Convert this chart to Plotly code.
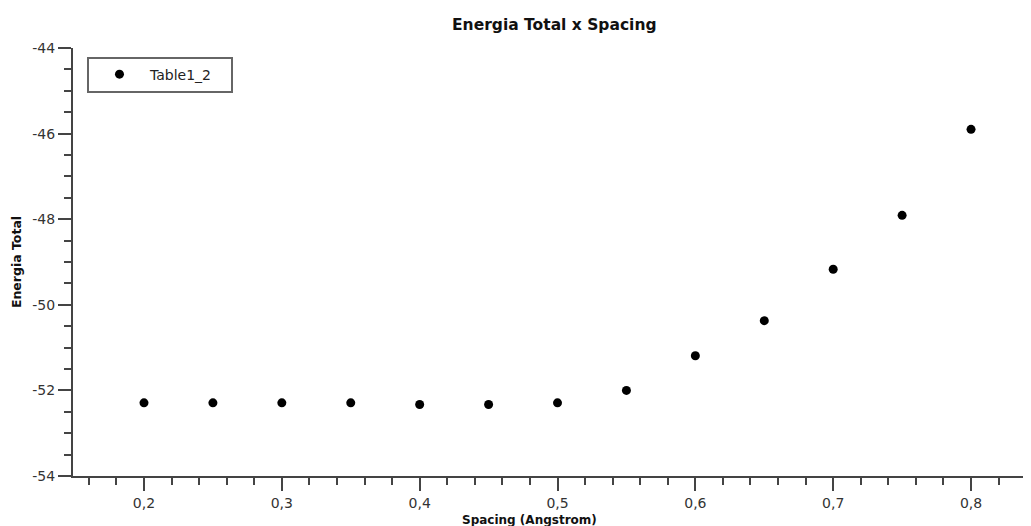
import plotly.graph_objects as go

spacing = [0.2, 0.25, 0.3, 0.35, 0.4, 0.45, 0.5, 0.55, 0.6, 0.65, 0.7, 0.75, 0.8]
energia = [-52.29, -52.29, -52.29, -52.29, -52.33, -52.33, -52.29, -52.0, -51.19, -50.37, -49.17, -47.91, -45.9]
x_ticks = [0.2, 0.3, 0.4, 0.5, 0.6, 0.7, 0.8]
y_ticks = [-54, -52, -50, -48, -46, -44]
series_name = "Table1_2"

font_fam = "DejaVu Sans"

fig = go.Figure()
fig.add_trace(go.Scatter(
    x=spacing, y=energia, mode="markers", name=series_name + "\u00a0\u00a0\u00a0",
    marker=dict(color="black", size=9, symbol="circle"),
))

fig.update_layout(
    width=1023, height=518,
    paper_bgcolor="white", plot_bgcolor="white",
    margin=dict(l=65, r=0, t=40, b=50),
    separators=",.",
    title=dict(text="<b>Energia Total x Spacing</b>", x=0.534, xanchor="center",
               y=0.978, yanchor="top",
               font=dict(family=font_fam, size=15.5, color="#111")),
    font=dict(family=font_fam, size=14, color="#333"),
    showlegend=True,
    legend=dict(x=0.0146, y=0.98, xanchor="left", yanchor="top",
                bordercolor="#666", borderwidth=2, bgcolor="white",
                font=dict(family=font_fam, size=14, color="#222"),
                itemwidth=51),
    xaxis=dict(
        range=[0.1485, 0.8435], tickvals=x_ticks,
        ticktext=[f"{v:.1f}".replace(".", ",") for v in x_ticks],
        showgrid=False, zeroline=False, automargin=False,
        showline=True, linecolor="#444", linewidth=2,
        ticks="outside", ticklen=13, tickwidth=1.5, tickcolor="#444",
        minor=dict(dtick=0.02, tick0=0.2, ticks="outside", ticklen=7, tickwidth=1.5, tickcolor="#444"),
    ),
    yaxis=dict(
        range=[-54, -44], tickvals=y_ticks,
        ticktext=[str(v) for v in y_ticks],
        showgrid=False, zeroline=False, automargin=False,
        showline=True, linecolor="#444", linewidth=2,
        ticks="outside", ticklen=13, tickwidth=1.5, tickcolor="#444",
        minor=dict(dtick=0.5, tick0=-54, ticks="outside", ticklen=7, tickwidth=1.5, tickcolor="#444"),
        title=dict(text="<b>Energia Total</b>", standoff=8,
                   font=dict(family=font_fam, size=12.5, color="#111")),
    ),
    annotations=[dict(
        text="<b>Spacing (Angstrom)</b>", xref="paper", yref="paper",
        x=0.476, y=0, xanchor="center", yanchor="top", yshift=-35,
        showarrow=False, font=dict(family=font_fam, size=12, color="#111"),
    )],
)

fig.write_html("out.html")
